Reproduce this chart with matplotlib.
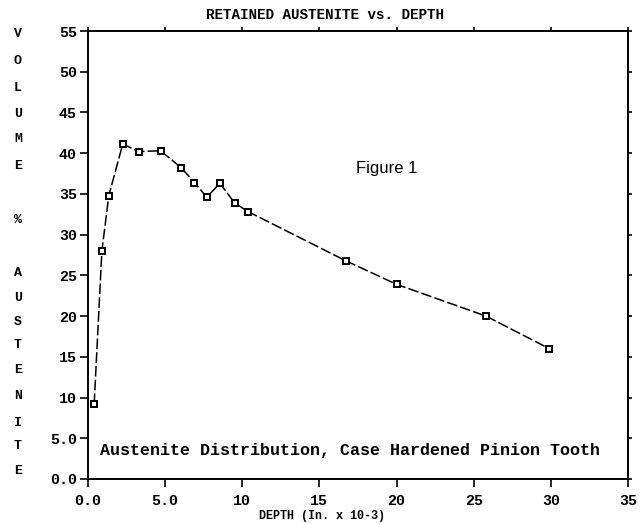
import matplotlib
matplotlib.use("Agg")
import matplotlib.pyplot as plt

depth = [0.4, 0.9, 1.35, 2.25, 3.3, 4.7, 6.05, 6.9, 7.7, 8.55, 9.5, 10.4, 16.7, 20.0, 25.8, 29.9]
austenite = [9.2, 28.0, 34.8, 41.1, 40.2, 40.3, 38.2, 36.4, 34.6, 36.3, 33.9, 32.8, 26.8, 23.9, 20.0, 16.0]

xticks = [0, 5, 10, 15, 20, 25, 30, 35]
xtick_labels = ["0.0", "5.0", "10", "15", "20", "25", "30", "35"]
yticks = [0, 5, 10, 15, 20, 25, 30, 35, 40, 45, 50, 55]
ytick_labels = ["0.0", "5.0", "10", "15", "20", "25", "30", "35", "40", "45", "50", "55"]

mono = ["Liberation Mono", "DejaVu Sans Mono"]

fig = plt.figure(figsize=(6.4, 5.24), dpi=100)
ax = fig.add_axes([88/640, 1-479/524, (628-88)/640, 448/524])

ax.plot(depth, austenite, color="black", lw=1.1, linestyle=(0, (7, 2)),
        marker="s", markersize=5, markerfacecolor="white", markeredgecolor="black",
        markeredgewidth=1.4)

ax.set_xlim(0, 35)
ax.set_ylim(0, 55)
ax.set_xticks(xticks)
ax.set_xticklabels(xtick_labels, family=mono, fontsize=10.8, fontweight="bold")
ax.set_yticks(yticks)
ax.set_yticklabels(ytick_labels, family=mono, fontsize=10.8, fontweight="bold")
ax.tick_params(axis="both", direction="out", length=6, width=1.2)
ax.tick_params(axis="x", pad=5)
ax.tick_params(axis="y", pad=2)
ax.tick_params(axis="y", which="major", right=True, labelright=False)
ax.tick_params(axis="x", which="major", top=True, labeltop=False)
for t in ax.yaxis.get_major_ticks():
    t.tick2line.set_markersize(3)
for t in ax.xaxis.get_major_ticks():
    t.tick2line.set_markersize(3)
for sp in ax.spines.values():
    sp.set_linewidth(1.4)

fig.text(325/640, 1-15/524, "RETAINED AUSTENITE vs. DEPTH", ha="center", va="center",
         family=mono, fontsize=10.3, fontweight="bold")
fig.text(322/640, 1-516/524, "DEPTH (In. x 10-3)", ha="center", va="center",
         family=mono, fontsize=8.5, fontweight="bold")

letters = ["V", "O", "L", "U", "M", "E", "%", "A", "U", "S", "T", "E", "N", "I", "T", "E"]
ys = [34, 61, 88, 114, 139, 166, 220, 273, 298, 322, 345, 370, 396, 423, 446, 471]
for ch, yy in zip(letters, ys):
    fig.text(18/640, 1-yy/524, ch, ha="center", va="center", family=mono,
             fontsize=9.5, fontweight="bold")

ax.text(100/640, 1-450/524, "Austenite Distribution, Case Hardened Pinion Tooth",
        transform=fig.transFigure, ha="left", va="center", family=mono,
        fontsize=12.0, fontweight="bold")
ax.text(356/640, 1-168/524, "Figure 1", transform=fig.transFigure, ha="left",
        va="center", family="Liberation Sans", fontsize=12)

fig.savefig("out.png", dpi=100)
